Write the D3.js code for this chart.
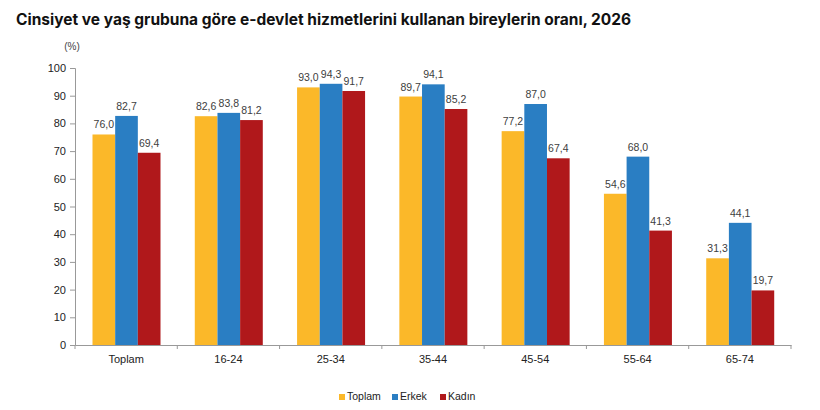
<!DOCTYPE html>
<html>
<head>
<meta charset="utf-8">
<script src="https://cdn.jsdelivr.net/npm/d3@7"></script>
<style>
  body { margin: 0; background: #fff; }
  svg { display: block; }
</style>
</head>
<body>
<div id="chart"></div>
<script>
// Data
const categories = ["Toplam", "16-24", "25-34", "35-44", "45-54", "55-64", "65-74"];
const seriesNames = ["Toplam", "Erkek", "Kadın"];
const toplam = [76.0, 82.6, 93.0, 89.7, 77.2, 54.6, 31.3];
const erkek = [82.7, 83.8, 94.3, 94.1, 87.0, 68.0, 44.1];
const kadin = [69.4, 81.2, 91.7, 85.2, 67.4, 41.3, 19.7];
const yTicks = [0, 10, 20, 30, 40, 50, 60, 70, 80, 90, 100];
const colors = ["#FBB829", "#2A7EC3", "#B0181B"];

const series = [toplam, erkek, kadin];
const data = categories.map((c, i) => ({
  category: c,
  values: seriesNames.map((s, j) => ({ key: s, value: series[j][i] }))
}));

const W = 820, H = 410;
const svg = d3.select("#chart").append("svg")
  .attr("width", W)
  .attr("height", H);

// Title
svg.append("text")
  .attr("x", 16)
  .attr("y", 25)
  .attr("font-family", "Inter, sans-serif")
  .attr("font-weight", 700)
  .attr("font-size", "15.5px")
  .attr("fill", "#111")
  .text("Cinsiyet ve yaş grubuna göre e-devlet hizmetlerini kullanan bireylerin oranı, 2026");

// Scales
const x0 = d3.scaleBand()
  .domain(categories)
  .range([75, 791])
  .padding(0);

const x1 = d3.scaleBand()
  .domain(seriesNames)
  .range([17.5, 85.5])
  .padding(0);

const y = d3.scaleLinear()
  .domain([0, 100])
  .range([345, 68]);

const font = "'Liberation Sans', Arial, sans-serif";

// Y axis
const yAxis = svg.append("g")
  .attr("transform", "translate(75,0)")
  .call(d3.axisLeft(y).tickValues(yTicks).tickSize(5).tickFormat(d3.format("d")));
yAxis.select(".domain").attr("stroke", "#999");
yAxis.selectAll(".tick line").attr("stroke", "#999");
yAxis.selectAll(".tick text")
  .attr("font-family", font)
  .attr("font-size", "11px")
  .attr("fill", "#222")
  .attr("x", -9);

// "(%)"
svg.append("text")
  .attr("x", 72)
  .attr("y", 50)
  .attr("text-anchor", "middle")
  .attr("font-family", font)
  .attr("font-size", "10px")
  .attr("fill", "#444")
  .text("(%)");

// Bars
const groups = svg.append("g")
  .selectAll("g")
  .data(data)
  .join("g")
  .attr("transform", d => `translate(${x0(d.category)},0)`);

groups.selectAll("rect")
  .data(d => d.values)
  .join("rect")
  .attr("x", d => x1(d.key))
  .attr("y", d => y(d.value))
  .attr("width", x1.bandwidth())
  .attr("height", d => y(0) - y(d.value))
  .attr("fill", (d, i) => colors[i]);

groups.selectAll("text.val")
  .data(d => d.values)
  .join("text")
  .attr("class", "val")
  .attr("x", d => x1(d.key) + x1.bandwidth() / 2)
  .attr("y", d => y(d.value) - 6)
  .attr("text-anchor", "middle")
  .attr("font-family", font)
  .attr("font-size", "10.5px")
  .attr("fill", "#404040")
  .text(d => d3.format(".1f")(d.value).replace(".", ","));

// X axis
const xAxis = svg.append("g")
  .attr("transform", `translate(0,${y(0)})`)
  .call(d3.axisBottom(x0).tickSize(0).tickSizeOuter(0));
xAxis.select(".domain").attr("stroke", "#999");
xAxis.selectAll(".tick text")
  .attr("font-family", font)
  .attr("font-size", "11px")
  .attr("fill", "#222")
  .attr("dy", "1.35em");

// Category separator ticks
svg.append("g")
  .selectAll("line")
  .data(categories.map(c => x0(c)).concat([x0.range()[1]]))
  .join("line")
  .attr("x1", d => d)
  .attr("x2", d => d)
  .attr("y1", y(0))
  .attr("y2", y(0) + 4)
  .attr("stroke", "#999");

// Legend
const legendX = [339, 392, 440];
const legend = svg.append("g")
  .selectAll("g")
  .data(seriesNames)
  .join("g")
  .attr("transform", (d, i) => `translate(${legendX[i]},400)`);
legend.append("rect")
  .attr("x", 0)
  .attr("y", -6)
  .attr("width", 6)
  .attr("height", 6)
  .attr("fill", (d, i) => colors[i]);
legend.append("text")
  .attr("x", 8)
  .attr("y", 0)
  .attr("font-family", font)
  .attr("font-size", "10.5px")
  .attr("fill", "#222")
  .text(d => d);
</script>
</body>
</html>
